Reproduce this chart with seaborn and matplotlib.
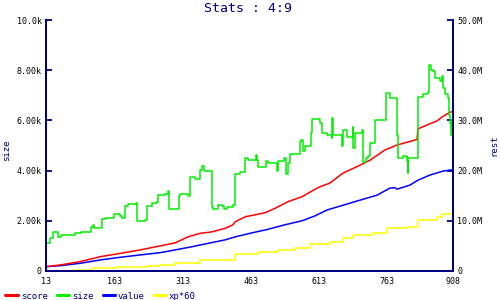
import matplotlib
matplotlib.use("Agg")
import matplotlib.pyplot as plt
import seaborn as sns
import pandas as pd
from matplotlib.ticker import FixedLocator
from matplotlib.lines import Line2D

# ---- data ----
size_x = [13, 22, 28, 33, 39, 46, 72, 77, 90, 112, 116, 119, 136, 143, 163, 176, 180, 187,
          193, 211, 213, 231, 235, 246, 257, 259, 275, 281, 283, 303, 305, 308, 325, 330,
          341, 352, 356, 360, 376, 378, 380, 391, 400, 404, 411, 424, 429, 440, 451, 457,
          470, 475, 477, 479, 495, 497, 501, 521, 522, 523, 536, 541, 545, 550, 567, 572,
          574, 578, 583, 594, 596, 598, 611, 616, 620, 631, 642, 643, 645, 664, 665, 666,
          675, 686, 688, 689, 692, 708, 710, 711, 717, 721, 726, 736, 758, 761, 769, 783,
          785, 787, 796, 798, 807, 808, 809, 827, 831, 842, 853, 855, 860, 864, 868, 879,
          884, 886, 890, 897, 899, 901, 903, 906, 908]
size_k = [1.13, 1.31, 1.57, 1.57, 1.37, 1.43, 1.43, 1.50, 1.57, 1.75, 1.83, 1.70, 2.07, 2.10,
          2.27, 2.20, 2.10, 2.60, 2.68, 2.72, 2.00, 2.05, 2.59, 2.72, 2.76, 3.03, 3.07, 3.20,
          2.46, 2.46, 2.99, 3.08, 3.00, 3.73, 3.65, 4.02, 4.18, 3.98, 3.98, 2.56, 2.47, 2.62,
          2.58, 2.47, 2.55, 2.62, 3.86, 3.95, 4.49, 4.42, 4.42, 4.62, 4.42, 4.16, 4.16, 4.40,
          4.30, 4.30, 3.98, 4.40, 4.50, 3.86, 4.30, 4.66, 4.66, 5.15, 5.20, 4.80, 5.00, 5.00,
          5.48, 6.06, 6.06, 5.90, 5.50, 5.40, 5.30, 6.10, 5.40, 5.40, 5.00, 5.60, 5.35, 5.35,
          5.75, 4.90, 5.50, 5.60, 4.75, 4.35, 4.50, 4.60, 5.10, 6.00, 6.00, 7.08, 6.90, 6.90,
          5.40, 4.50, 4.50, 4.60, 4.40, 3.90, 4.50, 4.50, 6.95, 7.05, 7.15, 8.20, 8.00, 7.95,
          7.70, 7.55, 7.75, 7.30, 7.05, 6.90, 6.20, 5.90, 5.40, 6.00, 6.20]

score_x = [13, 44, 88, 132, 176, 220, 264, 297, 325, 352, 378, 407, 424, 429, 451, 473, 495,
           517, 545, 576, 605, 616, 637, 666, 697, 726, 758, 785, 813, 829, 831, 851, 873,
           884, 901, 908]
score_m = [0.86, 1.2, 1.86, 2.85, 3.5, 4.2, 5.0, 5.6, 6.8, 7.5, 7.8, 8.5, 9.2, 9.8, 10.8,
           11.2, 11.6, 12.5, 13.8, 14.8, 16.3, 16.8, 17.5, 19.5, 20.8, 22.1, 24.1, 25.1,
           25.8, 26.2, 28.3, 29.1, 29.9, 30.7, 31.6, 31.8]

value_x = [13, 44, 88, 132, 176, 220, 264, 297, 334, 369, 407, 429, 466, 501, 538, 576, 605,
           631, 666, 703, 741, 769, 780, 785, 813, 831, 857, 886, 901, 908]
value_m = [0.86, 1.06, 1.53, 2.2, 2.73, 3.2, 3.65, 4.2, 4.84, 5.5, 6.2, 6.8, 7.6, 8.3, 9.2,
           10.0, 11.0, 12.15, 13.1, 14.1, 15.1, 16.5, 16.6, 16.3, 17.1, 18.1, 19.1, 19.9,
           20.1, 20.2]

xp_x = [13, 72, 116, 169, 235, 264, 297, 352, 429, 479, 523, 561, 594, 637, 666, 688, 732,
        763, 807, 831, 873, 884, 908]
xp_m = [0.06, 0.2, 0.53, 0.86, 1.06, 1.2, 1.53, 2.2, 3.4, 3.85, 4.2, 4.5, 5.4, 5.8, 6.5,
        7.2, 7.5, 8.5, 8.8, 10.2, 10.8, 11.3, 11.8]

x_ticks = [13, 163, 313, 463, 613, 763, 908]
left_ticks = [0, 2000, 4000, 6000, 8000, 10000]
left_labels = ["0", "2.00k", "4.00k", "6.00k", "8.00k", "10.0k"]
right_ticks = [0, 10e6, 20e6, 30e6, 40e6, 50e6]
right_labels = ["0", "10.0M", "20.0M", "30.0M", "40.0M", "50.0M"]

series_names = ["score", "size", "value", "xp*60"]
series_colors = ["#ff0000", "#00ee00", "#0000ff", "#ffff00"]
title = "Stats : 4:9"

# ---- style ----
sns.set_style("white")
plt.rcParams["font.family"] = ["DejaVu Sans Mono"]
NAVY = "#000080"

fig = plt.figure(figsize=(5, 3), dpi=100)
ax = fig.add_axes([46 / 500, 29 / 300, 407 / 500, 251 / 300])
ax2 = ax.twinx()

df_size = pd.DataFrame({"x": size_x, "y": [v * 1000 for v in size_k]})
df_score = pd.DataFrame({"x": score_x, "y": [v * 1e6 for v in score_m]})
df_value = pd.DataFrame({"x": value_x, "y": [v * 1e6 for v in value_m]})
df_xp = pd.DataFrame({"x": xp_x, "y": [v * 1e6 for v in xp_m]})

sns.lineplot(data=df_xp, x="x", y="y", ax=ax2, color=series_colors[3], lw=1.1,
             drawstyle="steps-post", estimator=None, legend=False)
sns.lineplot(data=df_value, x="x", y="y", ax=ax2, color=series_colors[2], lw=1.1,
             estimator=None, legend=False)
sns.lineplot(data=df_score, x="x", y="y", ax=ax2, color=series_colors[0], lw=1.1,
             estimator=None, legend=False)
sns.lineplot(data=df_size, x="x", y="y", ax=ax, color=series_colors[1], lw=1.1,
             drawstyle="steps-post", estimator=None, legend=False)
ax.set_zorder(ax2.get_zorder() + 1)
ax.patch.set_visible(False)

ax.set_xlim(13, 908)
ax.set_ylim(0, 10000)
ax2.set_ylim(0, 50e6)

ax.xaxis.set_major_locator(FixedLocator(x_ticks))
ax.set_xticklabels([str(t) for t in x_ticks])
ax.yaxis.set_major_locator(FixedLocator(left_ticks))
ax.set_yticklabels(left_labels)
ax2.yaxis.set_major_locator(FixedLocator(right_ticks))
ax2.set_yticklabels(right_labels)

for a in (ax, ax2):
    for s in a.spines.values():
        s.set_color(NAVY)
        s.set_linewidth(1.4)
    a.spines["top"].set_visible(False)
    a.tick_params(direction="in", length=4, width=1.3, color=NAVY,
                  labelsize=6, labelcolor="black", pad=3)
ax.tick_params(axis="x", pad=4)

ax.set_xlabel("")
ax.set_ylabel("size", color=NAVY, fontsize=6.5)
ax2.set_ylabel("rest", color=NAVY, fontsize=6.5, rotation=90)
ax.yaxis.set_label_coords(-0.086, 0.48)
ax2.yaxis.set_label_coords(1.089, 0.50)

fig.text(0.497, 0.97, title, ha="center", va="center", color=NAVY, fontsize=9.5)

handles = [Line2D([0], [0], color=c, lw=2.2) for c in series_colors]
fig.legend(handles, series_names, loc="lower left", bbox_to_anchor=(0.0, -0.02),
           ncol=4, frameon=False, fontsize=6.5, labelcolor=NAVY, handlelength=1.4,
           handletextpad=0.3, columnspacing=1.0, borderaxespad=0.2)

fig.savefig("out.png", dpi=100)
